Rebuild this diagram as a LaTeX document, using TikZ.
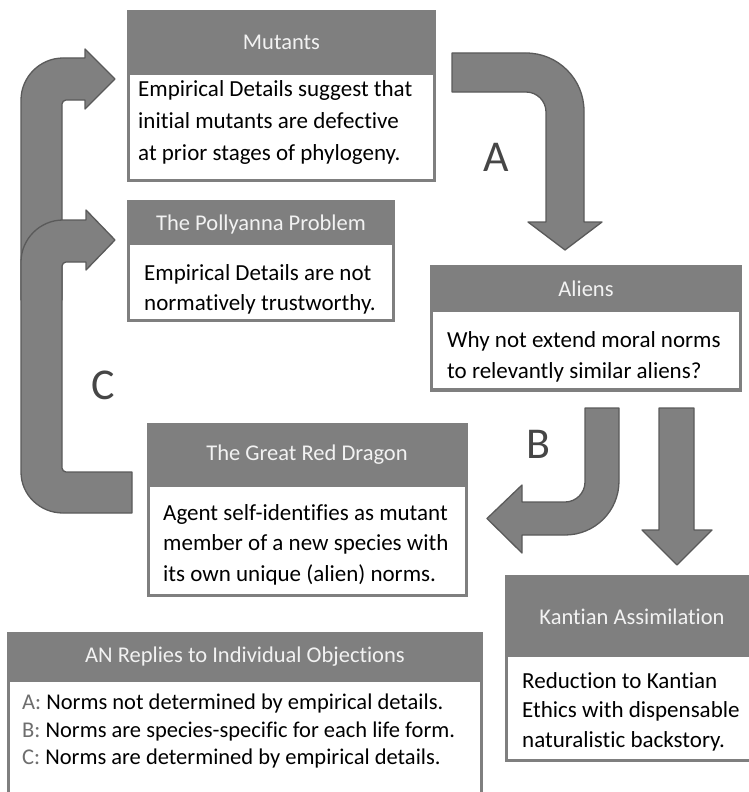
\documentclass[tikz,border=0pt]{standalone}
\usepackage{fontspec}
\setmainfont{Carlito}[Ligatures=NoCommon]
\definecolor{hdr}{RGB}{127,127,127}
\definecolor{arrfill}{RGB}{128,128,128}
\definecolor{arrline}{RGB}{90,90,90}
\definecolor{hdrtxt}{RGB}{242,242,242}
\definecolor{lbl}{RGB}{70,70,70}
\definecolor{keytxt}{RGB}{110,110,110}
\begin{document}
\begin{tikzpicture}[x=1pt,y=-1pt,
  outerbox/.style={draw=none, fill=hdr, anchor=north west, inner sep=0pt, outer sep=0pt},
  bodybox/.style={draw=none, fill=white, anchor=north west, inner sep=0pt, outer sep=0pt},
  hdrtext/.style={text=hdrtxt, font=\fontsize{22.5}{26}\selectfont, inner sep=0pt},
  bodytext/.style={text=black, anchor=north west, align=left, inner sep=0pt},
  bigarrow/.style={fill=arrfill, draw=arrline, line width=1.3pt, line join=round},
  letter/.style={text=lbl, font=\fontsize{44}{48}\selectfont, inner sep=0pt}]
\useasboundingbox (0,0) rectangle (748,792);

% ---------- arrows (drawn first, behind) ----------
% Mutants arrow (upper left)
\draw[bigarrow] (21,300) -- (21,100) .. controls (21,77) and (40,58) .. (63,58) -- (85,58) -- (85,49) -- (115,79) -- (85,109) -- (85,100) -- (66,100) .. controls (64,100) and (62,102) .. (62,104) -- (62,300) -- cycle;
% C arrow: Dragon -> Pollyanna
\draw[bigarrow] (132,472) -- (66,472) .. controls (64,472) and (62,470) .. (62,468) -- (62,266) .. controls (62,264) and (64,262) .. (66,262) -- (86,262) -- (86,270) -- (115,240) -- (86,210) -- (86,220) -- (63,220) .. controls (40,220) and (21,239) .. (21,262) -- (21,472) .. controls (21,495) and (40,513) .. (63,513) -- (132,513) -- cycle;
% A arrow: Mutants -> Aliens
\draw[bigarrow] (452,53) -- (526,53) .. controls (558,53) and (584,79) .. (584,111) -- (584,222) -- (602,222) -- (565,250) -- (528,222) -- (546,222) -- (546,112) .. controls (546,101) and (537,92) .. (526,92) -- (452,92) -- cycle;
% B arrow: Aliens -> Dragon
\draw[bigarrow] (585,408) -- (619,408) -- (619,481) .. controls (619,511) and (595,535) .. (565,535) -- (522,535) -- (522,553) -- (487,518.5) -- (522,485) -- (522,502) -- (565,502) .. controls (576,502) and (585,493) .. (585,482) -- cycle;
% straight arrow: Aliens -> Kantian
\draw[bigarrow] (659,408) -- (694,408) -- (694,530) -- (712,530) -- (677,565) -- (642,530) -- (659,530) -- cycle;

% ---------- boxes ----------
\node[outerbox, minimum width=309pt, minimum height=172pt] (mutbox) at (127,10) {};
\node[bodybox, minimum width=303pt, minimum height=104pt] (mutbody) at (130,75) {};
\node[hdrtext] (muthead) at (281.5,42) {Mutants};
\node[bodytext, font=\fontsize{23}{32}\selectfont] (muttext) at (138,80)
  {Empirical Details suggest that\\initial mutants are defective\\at prior stages of phylogeny.};

\node[outerbox, minimum width=268pt, minimum height=122pt] (polbox) at (127,200) {};
\node[bodybox, minimum width=262pt, minimum height=74pt] (polbody) at (130,245) {};
\node[hdrtext] (polhead) at (261,224) {The Pollyanna Problem};
\node[bodytext, font=\fontsize{23}{30}\selectfont] (poltext) at (144,264)
  {Empirical Details are not\\normatively trustworthy.};

\node[outerbox, minimum width=312pt, minimum height=127pt] (alibox) at (430,265) {};
\node[bodybox, minimum width=306pt, minimum height=76pt] (alibody) at (433,312) {};
\node[hdrtext] (alihead) at (586,289) {Aliens};
\node[bodytext, font=\fontsize{23}{31}\selectfont] (alitext) at (447,331)
  {Why not extend moral norms\\to relevantly similar aliens?};

\node[outerbox, minimum width=321pt, minimum height=174pt] (drabox) at (147,423) {};
\node[bodybox, minimum width=315pt, minimum height=107pt] (drabody) at (150,487) {};
\node[hdrtext] (drahead) at (307,455) {The Great Red Dragon};
\node[bodytext, font=\fontsize{23}{30.5}\selectfont] (dratext) at (163,504)
  {Agent self-identifies as mutant\\member of a new species with\\its own unique (alien) norms.};

\node[outerbox, minimum width=250pt, minimum height=187pt] (kanbox) at (505,575) {};
\node[bodybox, minimum width=250pt, minimum height=102pt] (kanbody) at (508,657) {};
\node[hdrtext] (kanhead) at (632,617) {Kantian Assimilation};
\node[bodytext, font=\fontsize{23}{29.5}\selectfont] (kantext) at (522,672)
  {Reduction to Kantian\\Ethics with dispensable\\naturalistic backstory.};

\node[outerbox, minimum width=476pt, minimum height=170pt] (anbox) at (7,632) {};
\node[bodybox, minimum width=470pt, minimum height=170pt] (anbody) at (10,682) {};
\node[hdrtext] (anhead) at (245,657) {AN Replies to Individual Objections};
\node[bodytext, font=\fontsize{22.5}{27.5}\selectfont] (antext) at (22,694)
  {\textcolor{keytxt}{A:} Norms not determined by empirical details.\\
   \textcolor{keytxt}{B:} Norms are species-specific for each life form.\\
   \textcolor{keytxt}{C:} Norms are determined by empirical details.};

% ---------- letters ----------
\node[letter] (labA) at (496,157) {A};
\node[letter] (labB) at (538,444) {B};
\node[letter] (labC) at (103,385) {C};
\end{tikzpicture}
\end{document}
